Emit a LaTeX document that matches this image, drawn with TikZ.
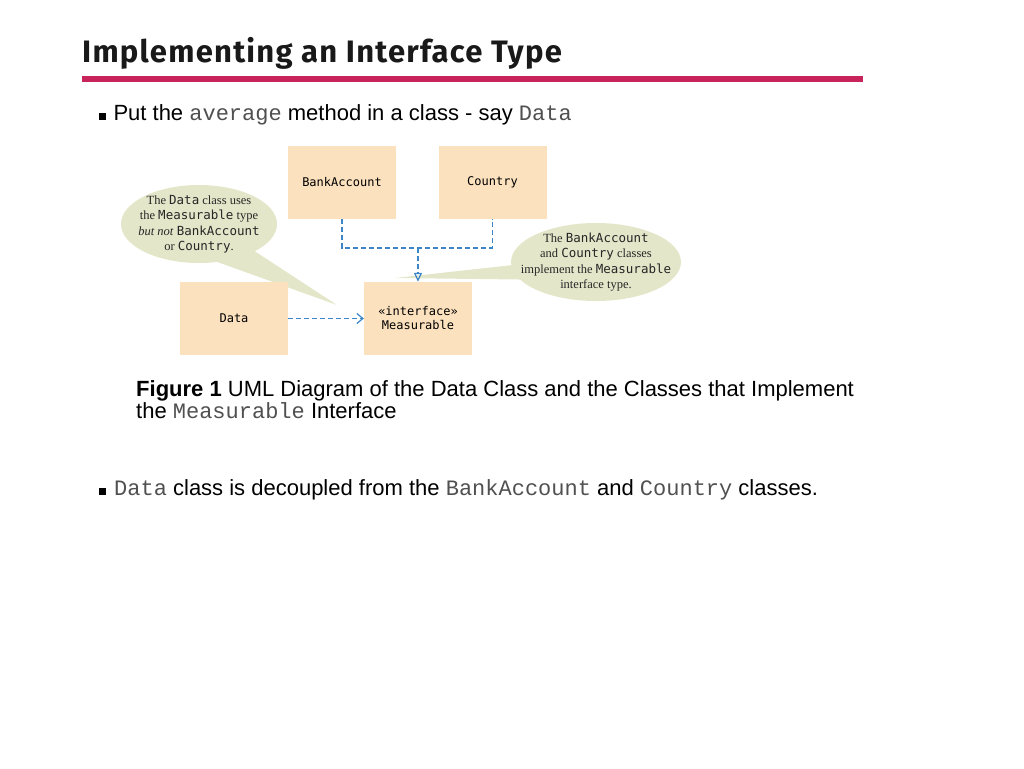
\documentclass[tikz,border=0pt]{standalone}
\usepackage{fontspec}
\setmainfont{Liberation Sans}
\setmonofont{Liberation Mono}
\newfontfamily\titlefont[LetterSpace=4]{Fira Sans}
\newfontfamily\serifb{Liberation Serif}
\newfontfamily\umono{DejaVu Sans Mono}
\usetikzlibrary{arrows.meta,shapes.geometric}
\definecolor{boxfill}{HTML}{FCE1BE}
\definecolor{bubble}{HTML}{E4E6C9}
\definecolor{bar}{HTML}{C8235A}
\definecolor{dashc}{HTML}{3A86C8}
\definecolor{monoc}{HTML}{505050}
\newcommand{\mc}[1]{{\ttfamily\color{monoc}#1}}
\newcommand{\um}[1]{{\umono #1}}
\tikzset{
  cls/.style={fill=boxfill,draw=none,minimum width=108pt,minimum height=73pt,font=\umono\fontsize{12}{14}\selectfont,align=center},
  dep/.style={dashc,dashed,line width=1.2pt,dash pattern=on 5pt off 3pt},
  btxt/.style={font=\serifb\fontsize{12.5}{15.5}\selectfont,align=center,text=black!85},
  bodytxt/.style={font=\fontsize{22}{24}\selectfont,anchor=west},
  bul/.style={fill=black,minimum size=7pt,inner sep=0pt}
}
\begin{document}
\begin{tikzpicture}[x=1pt,y=-1pt]
\useasboundingbox (0,0) rectangle (1024,768);
\node[anchor=west,font=\titlefont\bfseries\fontsize{31}{33}\selectfont,text=black!90,inner sep=0pt] (title) at (82,53) {Implementing an Interface Type};
\fill[bar] (82,76) rectangle (863,82);
\node[bul] (b1) at (102,116) {};
\node[bodytxt] (t1) at (110,115) {Put the \mc{average} method in a class - say \mc{Data}};
% bubbles
\fill[bubble] (170,245) -- (337,305) -- (230,235) -- cycle;
\fill[bubble] (540,262) -- (395,278) -- (560,280) -- cycle;
\node[ellipse,fill=bubble,minimum width=156pt,minimum height=78pt,inner sep=0pt] (lb) at (199,224) {};
\node[ellipse,fill=bubble,minimum width=170pt,minimum height=78pt,inner sep=0pt] (rb) at (596,262) {};
\node[btxt] (lbt) at (199,224) {The \um{Data} class uses\\the \um{Measurable} type\\\textit{but not} \um{BankAccount}\\or \um{Country}.};
\node[btxt] (rbt) at (596,262) {The \um{BankAccount}\\and \um{Country} classes\\implement the \um{Measurable}\\interface type.};
% classes
\node[cls] (ba) at (342,182.5) {BankAccount};
\node[cls] (co) at (492.5,182.5) {Country};
\node[cls] (da) at (234,318.5) {Data};
\node[cls] (me) at (418,318.5) {«interface»\\Measurable};
\coordinate (j) at (418,248);
\draw[dep] (ba.south) |- (j) -| (co.south);
\draw[dep,-{Triangle[open,length=9pt,width=8pt]}] (j) -- (me.north);
\draw[dep,-{Straight Barb[length=6pt,width=10pt]}] (da.east) -- (me.west);
\node[anchor=north west,font=\fontsize{22}{22}\selectfont,align=left,inner sep=0pt] (cap) at (136,380) {\textbf{Figure 1} UML Diagram of the Data Class and the Classes that Implement\\the \mc{Measurable} Interface};
\node[bul] (b2) at (102,491) {};
\node[bodytxt,inner sep=0pt] (t2) at (114,490) {\mc{Data} class is decoupled from the \mc{BankAccount} and \mc{Country} classes.};
\end{tikzpicture}
\end{document}
